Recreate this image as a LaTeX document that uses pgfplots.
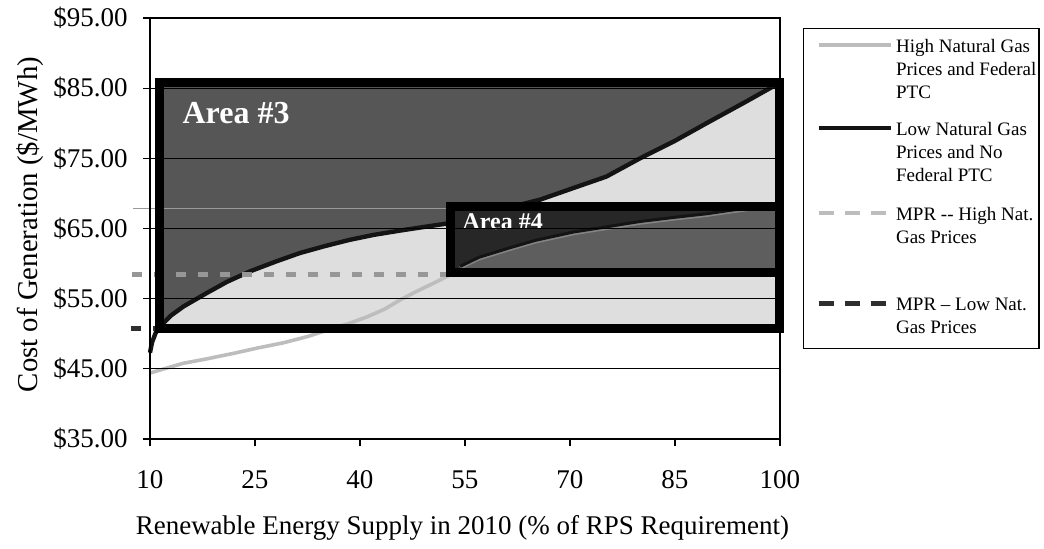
\documentclass[border=0pt]{standalone}
\usepackage{fontspec}
\setmainfont{Liberation Serif}
\usepackage{pgfplots}
\usepackage{pgfplotstable}
\pgfplotsset{compat=1.18}

\definecolor{darkfill}{HTML}{565656}
\definecolor{lightfill}{HTML}{DEDEDE}
\definecolor{areafour}{HTML}{272727}
\definecolor{areafourlow}{HTML}{5E5E5E}
\definecolor{highgas}{HTML}{BDBDBD}
\definecolor{lowgas}{HTML}{141414}
\definecolor{mprlow}{HTML}{2E2E2E}

% supply curves
\pgfplotstableread{
x y
10 47.3
10.3 48.8
10.8 50.1
11.4 51.0
13 52.6
14.8 53.9
18.1 55.8
21 57.4
24.3 58.9
28 60.3
31.4 61.5
35 62.5
38.6 63.4
42 64.1
45.7 64.7
49 65.2
52.4 65.7
56 66.5
60 67.7
65.7 69.1
70 70.6
75.2 72.4
80 75.0
85 77.5
89.5 80.0
95 83.0
100 85.8
}\lowtab

\pgfplotstableread{
x y
10 44.4
12 45.0
14.8 45.8
18 46.4
21.9 47.2
25.5 48.0
29 48.7
32.5 49.6
36.2 50.8
38.5 51.5
41 52.4
43.5 53.5
45.7 54.8
48 56.0
50.5 57.2
52.9 58.4
54.3 59.4
57 60.7
60.9 61.9
65 63.1
70.5 64.3
75 65.0
80 65.8
85 66.4
89.5 66.9
93 67.4
96.7 67.9
100 68.1
}\hightab

\newcommand{\legtext}[1]{\parbox[t]{70.5pt}{\fontsize{9.5}{11.5}\selectfont\raggedright #1}}

% legend line at 3.5pt above the first baseline; #1 = depth of the row
\pgfplotsset{
  legline/.style={legend image code/.code={%
    \draw[##1] (6.5pt,3.5pt) -- (42.5pt,3.5pt);
    \path[draw=none, fill=none] (0pt,9pt) rectangle (0.1pt,-#1);}},
}

\begin{document}
\begin{tikzpicture}
\begin{axis}[
  at={(0,0)}, anchor=south west,
  scale only axis, width=315pt, height=210.5pt,
  xmin=10, xmax=100, ymin=35, ymax=95,
  clip=false, axis on top,
  xtick={10,25,40,55,70,85,100},
  xticklabels={10,25,40,55,70,85,100},
  ytick={35,45,55,65,75,85,95},
  yticklabels={\$35.00,\$45.00,\$55.00,\$65.00,\$75.00,\$85.00,\$95.00},
  /pgf/number format/assume math mode=true,
  tick pos=left, tick align=outside, major tick length=3.5pt,
  tick style={black, line width=0.6pt},
  ymajorgrids, grid style={black, line width=0.5pt},
  axis line style={black, line width=0.6pt},
  ticklabel style={font=\fontsize{13.5}{16}\selectfont},
  yticklabel style={anchor=east, inner sep=0pt, xshift=-7.5pt},
  xticklabel style={anchor=base, inner sep=0pt, yshift=-21.25pt},
  every axis x label/.style={at={(axis description cs:0.496,-0.211)}, anchor=center, font=\fontsize{13.5}{16}\selectfont},
  every axis y label/.style={at={(axis description cs:-0.1905,0.5095)}, rotate=90, anchor=center, font=\fontsize{14.4}{17}\selectfont},
  xlabel={Renewable Energy Supply in 2010 (\% of RPS Requirement)},
  ylabel={Cost of Generation (\$/MWh)},
  legend style={at={(1.0365,0.976)}, anchor=north west, draw=black, line width=0.6pt,
    inner xsep=1pt, inner ysep=2.7pt, column sep=1.5pt, row sep=0pt,
    nodes={inner sep=0pt, text depth=}, cells={anchor=base west}},
]
\addlegendimage{highgas, line width=2pt, legline=32.65pt}
\addlegendentry{\legtext{High Natural Gas\\Prices and Federal\\PTC}}
\addlegendimage{lowgas, line width=2pt, legline=33.5pt}
\addlegendentry{\legtext{Low Natural Gas\\Prices and No\\Federal PTC}}
\addlegendimage{highgas, line width=2pt, dash pattern=on 7.5pt off 5.5pt, legline=36pt}
\addlegendentry{\legtext{MPR -{}- High Nat.\\Gas Prices}}
\addlegendimage{mprlow, line width=2.5pt, dash pattern=on 7.5pt off 5.5pt, legline=16.3pt}
\addlegendentry{\legtext{MPR -- Low Nat.\\Gas Prices}}

% Area #3 fills
\addplot[draw=none, fill=lightfill, forget plot] coordinates {
  (11.4,50.7) (100,50.7) (100,85.8) (11.4,85.8)} -- cycle;
\addplot[draw=none, fill=darkfill, forget plot] coordinates {
  (11.4,51.0) (13,52.6) (14.8,53.9) (18.1,55.8) (21,57.4) (24.3,58.9)
  (28,60.3) (31.4,61.5) (35,62.5) (38.6,63.4) (42,64.1) (45.7,64.7)
  (49,65.2) (52.4,65.7) (56,66.5) (60,67.7) (65.7,69.1) (70,70.6)
  (75.2,72.4) (80,75.0) (85,77.5) (89.5,80.0) (95,83.0) (100,85.8)
  (11.4,85.8)} -- cycle;

% supply curves
\addplot[highgas, line width=1.8pt, forget plot] table[x=x, y=y] {\hightab};
\addplot[lowgas, line width=2.2pt, forget plot] table[x=x, y=y] {\lowtab};

% Area #4 fills
\addplot[draw=none, fill=areafour, forget plot] coordinates {
  (53,58.8) (100,58.8) (100,68.2) (53,68.2)} -- cycle;
\addplot[draw=none, fill=areafourlow, forget plot] coordinates {
  (53,58.8) (54.3,59.4) (57,60.7) (60.9,61.9) (65,63.1) (70.5,64.3)
  (75,65.0) (80,65.8) (85,66.4) (89.5,66.9) (93,67.4) (96.7,67.9)
  (100,68.1) (100,58.8)} -- cycle;
\addplot[highgas!70!black, line width=1.8pt, restrict x to domain=54:100, forget plot] table[x=x, y=y] {\hightab};
\addplot[lowgas, line width=1.5pt, yshift=0.7pt, restrict x to domain=54:100, forget plot] table[x=x, y=y] {\hightab};

% reference lines
\addplot[gray!80, line width=0.6pt, forget plot] coordinates {(7.6,67.8) (100,67.8)};
\addplot[highgas!80!black, line width=2.5pt, dash pattern=on 5pt off 6pt, forget plot] coordinates {(7.4,58.4) (100,58.4)};
\addplot[mprlow, line width=2.5pt, dash pattern=on 5pt off 6pt, forget plot] coordinates {(7.3,50.8) (100,50.8)};

% area frames
\addplot[black, line width=4.5pt, line join=miter, forget plot] coordinates {
  (11.4,50.7) (100,50.7) (100,85.8) (11.4,85.8)} -- cycle;
\addplot[black, line width=4.5pt, line join=miter, forget plot] coordinates {
  (53,58.8) (100,58.8) (100,68.2) (53,68.2)} -- cycle;

\node[anchor=base west, inner sep=0pt, text=white, font=\fontsize{16}{18}\selectfont\bfseries] at (axis cs:14.6,80.0) {Area \#3};
\node[anchor=base west, inner sep=0pt, text=white, font=\fontsize{12}{14}\selectfont\bfseries] at (axis cs:54.6,64.8) {Area \#4};
\end{axis}
\pgfresetboundingbox
\path[use as bounding box] (-75pt,-54.5pt) rectangle (447pt,219.5pt);
\end{tikzpicture}
\end{document}
